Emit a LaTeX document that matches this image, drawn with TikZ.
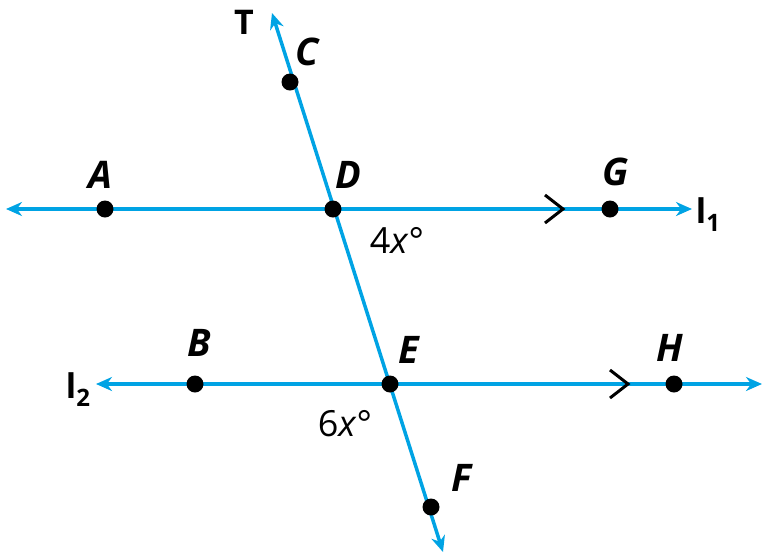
\documentclass[tikz,border=0pt]{standalone}
\usepackage{fontspec}
\setmainfont{Open Sans}
\usetikzlibrary{arrows.meta}
\definecolor{lb}{RGB}{0,163,228}
\tikzset{
 ln/.style={draw=lb,line width=3.5pt,{Stealth[length=16pt,width=14pt]}-{Stealth[length=16pt,width=14pt]}},
 dot/.style={circle,fill=black,inner sep=0pt,minimum size=17pt},
 lab/.style={font=\fontsize{38}{38}\selectfont\bfseries\itshape},
 chev/.style={draw=black,line width=3pt},
 ang/.style={font=\fontsize{36}{36}\selectfont}
}
\begin{document}
\begin{tikzpicture}[x=1pt,y=-1pt]
\useasboundingbox (0,0) rectangle (772,558);
\coordinate (l1a) at (6,209); \coordinate (l1b) at (692,209);
\coordinate (l2a) at (96,384); \coordinate (l2b) at (762,384);
\coordinate (ta) at (272,13); \coordinate (tb) at (443,552);
\draw[ln] (l1a) -- (l1b);
\draw[ln] (l2a) -- (l2b);
\draw[ln] (ta) -- (tb);
\draw[chev] (545,195) -- (563,209) -- (545,223);
\draw[chev] (610,370) -- (628,384) -- (610,398);
\node[dot] (A) at (105,209) {};
\node[dot] (D) at (333,209) {};
\node[dot] (G) at (610,209) {};
\node[dot] (B) at (195,384) {};
\node[dot] (E) at (390,384) {};
\node[dot] (H) at (674,384) {};
\node[dot] (C) at (290,82) {};
\node[dot] (F) at (431,507) {};
\node[lab] (tA) at (100,175) {A};
\node[lab] (tD) at (348,175) {D};
\node[lab] (tG) at (616,172) {G};
\node[lab] (tC) at (307,52) {C};
\node[lab] (tB) at (199,343) {B};
\node[lab] (tE) at (409,350) {E};
\node[lab] (tH) at (670,348) {H};
\node[lab] (tF) at (462,478) {F};
\node[font=\fontsize{34}{34}\selectfont\bfseries] (tT) at (244,22) {T};
\node[font=\fontsize{34}{34}\selectfont\bfseries] (tl1) at (708,215) {l\raisebox{-8pt}{\fontsize{24}{24}\selectfont 1}};
\node[font=\fontsize{34}{34}\selectfont\bfseries] (tl2) at (78,390) {l\raisebox{-8pt}{\fontsize{24}{24}\selectfont 2}};
\node[ang] (a1) at (397,240) {4\textit{x}°};
\node[ang] (a2) at (345,424) {6\textit{x}°};
\end{tikzpicture}
\end{document}
